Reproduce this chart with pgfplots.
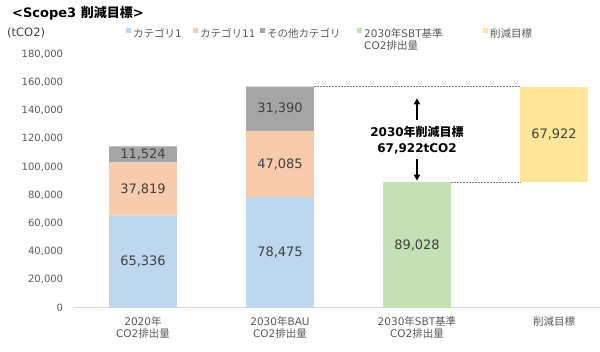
\documentclass[border=0pt]{standalone}
\usepackage{pgfplots}
\pgfplotsset{compat=1.18}
\usepackage{pgfplotstable}
\usepackage{fontspec}
\setmainfont{DejaVu Sans}
\newfontfamily\jp{Noto Sans CJK JP}
\usetikzlibrary{arrows.meta}
\definecolor{cBlue}{HTML}{BDD7EE}
\definecolor{cOrange}{HTML}{F8CBAD}
\definecolor{cGray}{HTML}{A5A5A5}
\definecolor{cGreen}{HTML}{C5E0B4}
\definecolor{cYellow}{HTML}{FFE699}
\definecolor{txt}{HTML}{595959}
\definecolor{lbl}{HTML}{404040}
\definecolor{axl}{HTML}{D9D9D9}
\definecolor{dsh}{HTML}{808080}

\pgfplotstableread{
x y
0 65336
1 78475
2 0
3 0
}\tblA
\pgfplotstableread{
x y
0 37819
1 47085
2 0
3 0
}\tblB
\pgfplotstableread{
x y
0 11524
1 31390
2 0
3 0
}\tblC
\pgfplotstableread{
x y
0 0
1 0
2 89028
3 0
}\tblD
\pgfplotstableread{
x y
0 0
1 0
2 0
3 89028
}\tblE
\pgfplotstableread{
x y
0 0
1 0
2 0
3 67922
}\tblF
% value labels: x, middle of the segment, value shown
\pgfplotstableread{
x mid val
0 32668 65336
1 39237.5 78475
0 84245.5 37819
1 102017.5 47085
0 108917 11524
1 141255 31390
2 44514 89028
3 122989 67922
}\tblLab

\pgfplotsset{
  base/.style={
    scale only axis, width=526pt, height=253.4pt,
    xmin=-0.5036, xmax=3.3358, ymin=0, ymax=180000,
    at={(74pt,44.3pt)}, anchor=south west,
  },
}

\begin{document}
\begin{tikzpicture}
\useasboundingbox (0,0) rectangle (600pt,352pt);
\node[anchor=base west, inner sep=0pt, font=\bfseries\fontsize{13}{15}\selectfont] at (12pt,334pt) {<Scope3 {\jp 削減目標}>};
\node[anchor=base west, inner sep=0pt, font=\fontsize{11.5}{13}\selectfont, text=lbl] at (7pt,315pt) {(tCO2)};

\begin{axis}[base,
  ybar stacked, bar width=0.496,
  axis x line=bottom, axis y line=left,
  x axis line style={draw=axl, line width=1pt, -},
  y axis line style={draw=none},
  major tick length=0pt,
  xtick={0,1,2,3},
  xticklabels={{2020{\jp 年}\\CO2{\jp 排出量}}, {2030{\jp 年}BAU\\CO2{\jp 排出量}}, {2030{\jp 年}SBT{\jp 基準}\\CO2{\jp 排出量}}, {{\jp 削減目標}}},
  xticklabel style={align=center, font=\fontsize{10.5}{12.5}\selectfont, text=txt, inner sep=0pt, yshift=-8.3pt},
  ytick={0,20000,40000,60000,80000,100000,120000,140000,160000,180000},
  yticklabel style={font=\fontsize{10}{12}\selectfont, text=txt, inner sep=0pt, xshift=-10.7pt},
  scaled y ticks=false,
  /pgf/number format/fixed,
  /pgf/number format/precision=0,
  /pgf/number format/1000 sep={,},
  /pgf/number format/assume math mode=true,
  legend columns=5,
  legend cell align=left,
  legend style={draw=none, fill=none, inner sep=0pt, at={(0.0989,1.1105)}, anchor=north west,
    font=\fontsize{10.5}{12}\selectfont, text=txt, column sep=0pt},
  legend image code/.code={\fill[#1] (0pt,0.5pt) rectangle (5pt,5.5pt);},
]
\addplot[fill=cBlue, draw=none] table[x=x, y=y] {\tblA};
\addlegendentry{\makebox[58pt][l]{{\jp カテゴリ}1}}
\addplot[fill=cOrange, draw=none] table[x=x, y=y] {\tblB};
\addlegendentry{\makebox[58pt][l]{{\jp カテゴリ}11}}
\addplot[fill=cGray, draw=none] table[x=x, y=y] {\tblC};
\addlegendentry{\makebox[88pt][l]{{\jp その他カテゴリ}}}
\addplot[fill=cGreen, draw=none] table[x=x, y=y] {\tblD};
\addlegendentry{\makebox[117pt][l]{\begin{tabular}[t]{@{}l@{}}2030{\jp 年}SBT{\jp 基準}\\CO2{\jp 排出量}\end{tabular}}}
\addplot[fill=none, draw=none, forget plot] table[x=x, y=y] {\tblE};
\addplot[fill=cYellow, draw=none] table[x=x, y=y] {\tblF};
\addlegendentry{{\jp 削減目標}}
\end{axis}

\begin{axis}[base, hide axis, clip=false,
  /pgf/number format/fixed,
  /pgf/number format/precision=0,
  /pgf/number format/1000 sep={,},
  /pgf/number format/assume math mode=true]
\addplot[draw=none, mark=none, only marks, point meta=explicit,
  nodes near coords={\pgfmathprintnumber{\pgfplotspointmeta}},
  every node near coord/.append style={anchor=center, font=\fontsize{13}{15}\selectfont, text=lbl}]
  table[x=x, y=mid, meta=val] {\tblLab};
\addplot[dsh, line width=0.8pt, dash pattern=on 2pt off 1pt, mark=none] coordinates {(1.248,156950) (2.752,156950)};
\addplot[dsh, line width=0.8pt, dash pattern=on 2pt off 1pt, mark=none] coordinates {(2.248,89028) (2.752,89028)};
\addplot[black, line width=1.5pt, mark=none, -{Triangle[length=6pt,width=6pt]}] coordinates {(2,133360) (2,148770)};
\addplot[black, line width=1.5pt, mark=none, -{Triangle[length=6pt,width=6pt]}] coordinates {(2,105650) (2,90230)};
\node[align=center, font=\bfseries\fontsize{12}{16}\selectfont] at (axis cs:2,119150) {2030{\jp 年削減目標}\\67,922tCO2};
\end{axis}
\end{tikzpicture}
\end{document}
